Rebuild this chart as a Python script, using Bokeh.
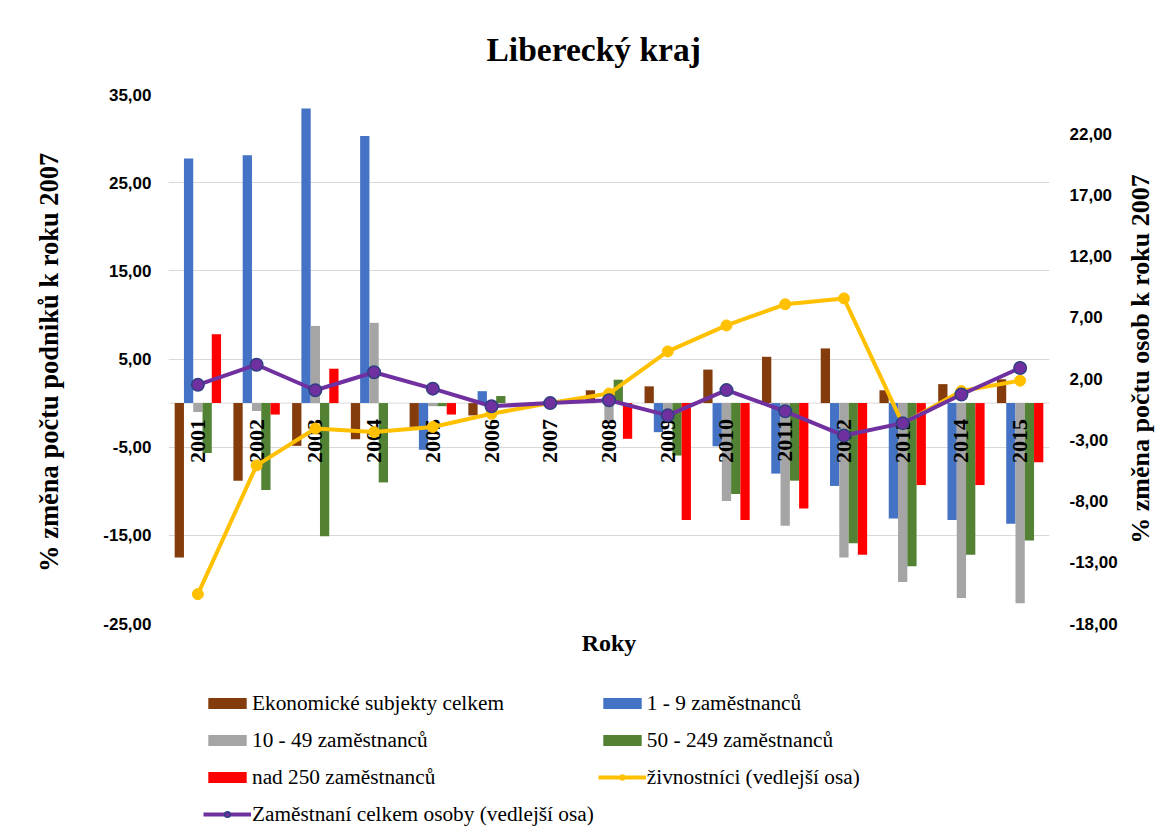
import math
from bokeh.plotting import figure
from bokeh.layouts import column, row
from bokeh.models import (ColumnDataSource, FactorRange, Range1d, LinearAxis, FixedTicker,
                          Legend, LegendItem, Span, Title, Label)
from bokeh.transform import dodge
from bokeh.core.properties import value
from bokeh.embed import file_html
from bokeh.resources import INLINE

# ---------------- data ----------------
years = ["2001", "2002", "2003", "2004", "2005", "2006", "2007", "2008",
         "2009", "2010", "2011", "2012", "2013", "2014", "2015"]

ekonomicke = [-17.5, -8.8, -4.85, -4.1, -2.7, -1.4, 0.0, 1.45, 1.9, 3.8, 5.25, 6.2, 1.45, 2.15, 2.7]
z1_9 = [27.75, 28.1, 33.4, 30.3, -5.3, 1.35, 0.0, 0.0, -3.3, -4.9, -8.0, -9.4, -13.1, -13.25, -13.7]
z10_49 = [-1.0, -0.9, 8.75, 9.1, -0.35, 0.0, 0.0, -2.15, -1.2, -11.1, -13.9, -17.5, -20.3, -22.1, -22.7]
z50_249 = [-5.65, -9.85, -15.1, -9.0, -0.35, 0.8, 0.0, 2.65, -5.95, -10.3, -8.8, -15.9, -18.5, -17.2, -15.6]
z250 = [7.8, -1.3, 3.9, 0.0, -1.3, 0.0, 0.0, -4.05, -13.25, -13.25, -11.95, -17.2, -9.3, -9.3, -6.7]

zivnostnici = [-15.6, -5.09, -2.08, -2.37, -1.95, -0.87, 0.0, 0.78, 4.22, 6.34, 8.07, 8.55, -1.69, 0.98, 1.83]
zamestnani = [1.49, 3.13, 1.05, 2.52, 1.18, -0.26, 0.0, 0.23, -1.0, 1.06, -0.67, -2.65, -1.64, 0.70, 2.87]

bar_series = ["ekonomicke", "z1_9", "z10_49", "z50_249", "z250"]
bar_labels = ["Ekonomické subjekty celkem", "1 - 9 zaměstnanců", "10 - 49 zaměstnanců",
              "50 - 249 zaměstnanců", "nad 250 zaměstnanců"]
bar_colors = ["#843C0C", "#4472C4", "#A5A5A5", "#548235", "#FF0000"]
line_labels = ["živnostníci (vedlejší osa)", "Zaměstnaní celkem osoby (vedlejší osa)"]

left_ticks = [-25, -15, -5, 5, 15, 25, 35]
left_tick_labels = ["-25,00", "-15,00", "-5,00", "5,00", "15,00", "25,00", "35,00"]
right_ticks = [-18, -13, -8, -3, 2, 7, 12, 17, 22]
right_tick_labels = ["-18,00", "-13,00", "-8,00", "-3,00", "2,00", "7,00", "12,00", "17,00", "22,00"]

title_text = "Liberecký kraj"
x_title = "Roky"
left_title = "% změna počtu podniků k roku  2007"
right_title = "% změna počtu osob k roku 2007"

source = ColumnDataSource(dict(year=years, ekonomicke=ekonomicke, z1_9=z1_9, z10_49=z10_49,
                               z50_249=z50_249, z250=z250, zivnostnici=zivnostnici,
                               zamestnani=zamestnani))

W = 1160
W_MAIN = 1120
W_SIDE = W - W_MAIN
H1 = 662          # main chart
H2 = 170          # legend strip
FRAME_L, FRAME_R, FRAME_T, FRAME_B = 168, 1049, 94, 623

bar_w = 0.158
offsets = [-2 * bar_w, -bar_w, 0.0, bar_w, 2 * bar_w]


def add_bars(fig):
    bars = []
    for col, off, colr in zip(bar_series, offsets, bar_colors):
        rr = fig.vbar(x=dodge("year", off, range=fig.x_range), top=col, width=bar_w,
                      source=source, fill_color=colr, line_color=None)
        bars.append(rr)
    return bars


def add_lines(fig, right_name):
    kw = {} if right_name is None else {"y_range_name": right_name}
    yl = fig.line(x="year", y="zivnostnici", source=source, line_color="#FFC000",
                  line_width=4, line_join="round", **kw)
    ys = fig.scatter(x="year", y="zivnostnici", source=source, marker="circle", size=11,
                     fill_color="#FFC000", line_color="#FFC000", **kw)
    pl = fig.line(x="year", y="zamestnani", source=source, line_color="#7030A0",
                  line_width=4, line_join="round", **kw)
    ps = fig.scatter(x="year", y="zamestnani", source=source, marker="circle", size=12.5,
                     fill_color="#7030A0", line_color="#2F3F80", line_width=1.5, **kw)
    return yl, ys, pl, ps


# ---------------- main figure ----------------
p = figure(x_range=FactorRange(factors=years), y_range=Range1d(-25, 35),
           width=W_MAIN, height=H1, output_backend="svg", toolbar_location=None,
           x_axis_location=None,
           min_border_left=FRAME_L, min_border_right=W_MAIN - FRAME_R, min_border_top=FRAME_T,
           min_border_bottom=H1 - FRAME_B)
p.extra_y_ranges = {"right": Range1d(-18, 25.2)}
p.outline_line_color = None

p.xgrid.visible = False
p.ygrid.grid_line_color = "#D9D9D9"
p.ygrid.grid_line_width = 1

left_axis = p.yaxis[0]
left_axis.ticker = FixedTicker(ticks=left_ticks)
left_axis.major_label_overrides = {t: l for t, l in zip(left_ticks, left_tick_labels)}
left_axis.major_label_text_font = "Liberation Sans"
left_axis.major_label_text_font_style = "bold"
left_axis.major_label_text_font_size = "17px"
left_axis.major_label_text_color = "black"
left_axis.major_label_standoff = 17
left_axis.major_tick_out = 0
left_axis.major_tick_in = 0
left_axis.minor_tick_out = 0
left_axis.minor_tick_in = 0
left_axis.axis_line_color = None
left_axis.axis_label = left_title
left_axis.axis_label_text_font = "Liberation Serif"
left_axis.axis_label_text_font_style = "bold"
left_axis.axis_label_text_font_size = "26.5px"
left_axis.axis_label_text_color = "black"
left_axis.axis_label_standoff = 36

right_axis = LinearAxis(y_range_name="right", ticker=FixedTicker(ticks=right_ticks))
right_axis.major_label_overrides = {t: l for t, l in zip(right_ticks, right_tick_labels)}
right_axis.major_label_text_font = "Liberation Sans"
right_axis.major_label_text_font_style = "bold"
right_axis.major_label_text_font_size = "17px"
right_axis.major_label_text_color = "black"
right_axis.major_label_standoff = 20
right_axis.major_tick_out = 0
right_axis.major_tick_in = 0
right_axis.minor_tick_out = 0
right_axis.minor_tick_in = 0
right_axis.axis_line_color = None
p.add_layout(right_axis, "right")

p.add_layout(Span(location=0, dimension="width", line_color="#D9D9D9", line_width=1,
                  level="underlay"))

add_bars(p)

# category labels next to the zero line
p.text(x="year", y=0, text="year", source=source, angle=math.pi / 2,
       text_align="right", text_baseline="middle", y_offset=16,
       text_font=value("Liberation Serif"), text_font_style="bold",
       text_font_size="22px", text_color="black")

add_lines(p, "right")

p.title.text = title_text
p.title.text_font = "Liberation Serif"
p.title.text_font_style = "bold"
p.title.text_font_size = "33.5px"
p.title.text_color = "black"
p.title.align = "left"
p.title.offset = 318
p.title.standoff = 54

p.add_layout(Title(text=x_title, align="center", text_font="Liberation Serif",
                   text_font_style="bold", text_font_size="24px", text_color="black",
                   standoff=8), "below")

# ---------------- secondary axis title strip ----------------
r = figure(x_range=Range1d(0, W_SIDE), y_range=p.y_range, width=W_SIDE, height=H1,
           output_backend="svg", toolbar_location=None,
           x_axis_location=None, y_axis_location=None,
           min_border_left=0, min_border_right=0, min_border_top=FRAME_T,
           min_border_bottom=H1 - FRAME_B)
r.outline_line_color = None
r.grid.visible = False
r.add_layout(Label(x=20, y=5, text=right_title, angle=math.pi / 2, text_align="center",
                   text_baseline="middle", text_font="Liberation Serif",
                   text_font_style="bold", text_font_size="26px", text_color="black"))

# ---------------- legend strip ----------------
q = figure(x_range=FactorRange(factors=years), y_range=Range1d(1000, 1001),
           width=W, height=H2, output_backend="svg", toolbar_location=None,
           x_axis_location=None, y_axis_location=None,
           min_border_left=FRAME_L, min_border_right=W - FRAME_R,
           min_border_top=0, min_border_bottom=0)
q.outline_line_color = None
q.grid.visible = False

q_bars = add_bars(q)
q_yl, q_ys, q_pl, q_ps = add_lines(q, None)

items = [LegendItem(label=bar_labels[i], renderers=[q_bars[i]]) for i in range(5)]
items.append(LegendItem(label=line_labels[0], renderers=[q_yl, q_ys]))
items.append(LegendItem(label=line_labels[1], renderers=[q_pl, q_ps]))
legend = Legend(items=items, location=(35, 1.5), orientation="horizontal", ncols=2,
                border_line_color=None, background_fill_alpha=0,
                label_text_font="Liberation Serif", label_text_font_size="21.3px",
                label_text_color="black",
                glyph_width=48, glyph_height=14, label_standoff=1,
                label_width=340, label_height=33, spacing=4, padding=0, margin=0)
q.add_layout(legend, "center")

layout = column(row(p, r, spacing=0), q, spacing=0)
open("out.html", "w").write(file_html(layout, INLINE))
